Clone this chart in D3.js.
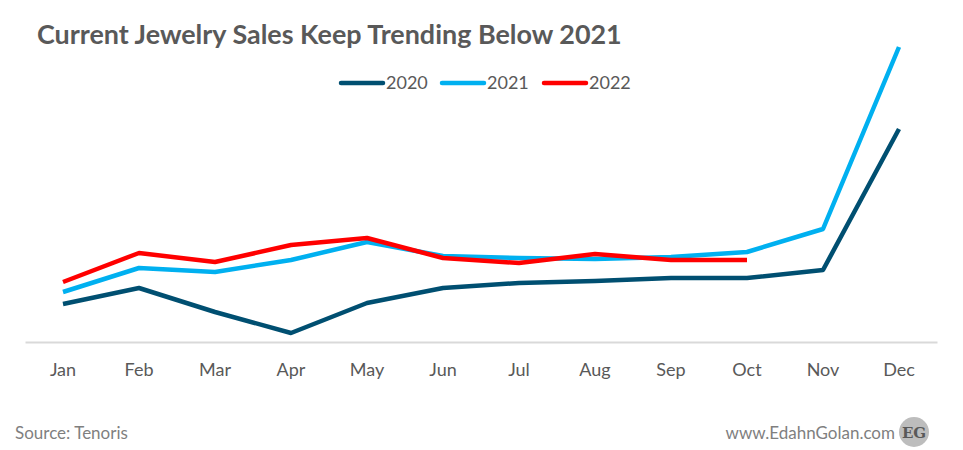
<!DOCTYPE html>
<html lang="en">
<head>
<meta charset="utf-8">
<script src="https://cdn.jsdelivr.net/npm/d3@7/dist/d3.min.js"></script>
<style type="text/css">
body { margin: 0; background: #fff; }
text { font-family: Lato, "Open Sans", sans-serif; }
</style>
</head>
<body>
<script type="text/javascript">

// data (index units, no y axis shown)
var months = ["Jan","Feb","Mar","Apr","May","Jun","Jul","Aug","Sep","Oct","Nov","Dec"];
var sales2020 = [38, 54, 30, 9, 39, 54, 59, 61, 64, 64, 72, 213];
var sales2021 = [50, 74, 70, 82, 100, 86, 84, 83, 85, 90, 113, 295];
var sales2022 = [60, 89, 80, 97, 104, 84, 79, 88, 82, 82];
var seriesNames = ["2020", "2021", "2022"];
var seriesColors = ["#004f71", "#00b0f0", "#ff0000"];

var width = 963, height = 450;
var svg = d3.select("body").append("svg")
    .attr("width", width)
    .attr("height", height);

var x = d3.scaleBand().domain(months).range([25, 937]);
var y = d3.scaleLinear().domain([0, 300]).range([342, 42]);

// title
var title = svg.append("text")
    .attr("x", 37).attr("y", 44)
    .style("font-weight", "bold")
    .style("font-size", "25px")
    .style("fill", "#595959")
    .text("Current Jewelry Sales Keep Trending Below 2021");
var tw = title.node().getComputedTextLength();
title.style("font-size", (25 * 585 / tw) + "px");

// axis baseline + month labels
var xAxis = svg.append("g")
    .attr("transform", "translate(0," + y(0) + ")")
    .call(d3.axisBottom(x).tickSize(0).tickPadding(21));
xAxis.select(".domain").attr("stroke", "#d9d9d9").attr("stroke-width", 2);
xAxis.selectAll("text")
    .style("font-size", "18px")
    .style("fill", "#595959")
    .style("font-family", "Lato, 'Open Sans', sans-serif");

// lines
var line = d3.line()
    .x(function(d, i) { return x(months[i]) + x.bandwidth() / 2; })
    .y(function(d) { return y(d); });

[sales2020, sales2021, sales2022].forEach(function(s, i) {
    svg.append("path")
        .datum(s)
        .attr("d", line)
        .attr("fill", "none")
        .attr("stroke", seriesColors[i])
        .attr("stroke-width", 4.5)
        .attr("stroke-linejoin", "round");
});

// legend
var legX = [341, 442, 544];
seriesNames.forEach(function(n, i) {
    svg.append("line")
        .attr("x1", legX[i]).attr("x2", legX[i] + 42)
        .attr("y1", 83).attr("y2", 83)
        .attr("stroke", seriesColors[i])
        .attr("stroke-width", 4.5)
        .attr("stroke-linecap", "round");
    svg.append("text")
        .attr("x", legX[i] + 45).attr("y", 89)
        .style("font-size", "18px")
        .style("fill", "#595959")
        .text(n);
});

// footer
svg.append("text")
    .attr("x", 15).attr("y", 439)
    .style("font-size", "17px")
    .style("fill", "#7f7f7f")
    .text("Source: Tenoris");
svg.append("text")
    .attr("x", 895).attr("y", 439)
    .attr("text-anchor", "end")
    .style("font-size", "17px")
    .style("fill", "#7f7f7f")
    .text("www.EdahnGolan.com");
svg.append("circle")
    .attr("cx", 914).attr("cy", 432).attr("r", 15)
    .attr("fill", "#bdbdbd");
svg.append("text")
    .attr("x", 914).attr("y", 438)
    .attr("text-anchor", "middle")
    .style("font-family", "'DejaVu Serif', 'Liberation Serif', serif")
    .style("font-weight", "bold")
    .style("font-size", "15px")
    .style("fill", "#595959")
    .text("EG");

</script>
</body>
</html>
